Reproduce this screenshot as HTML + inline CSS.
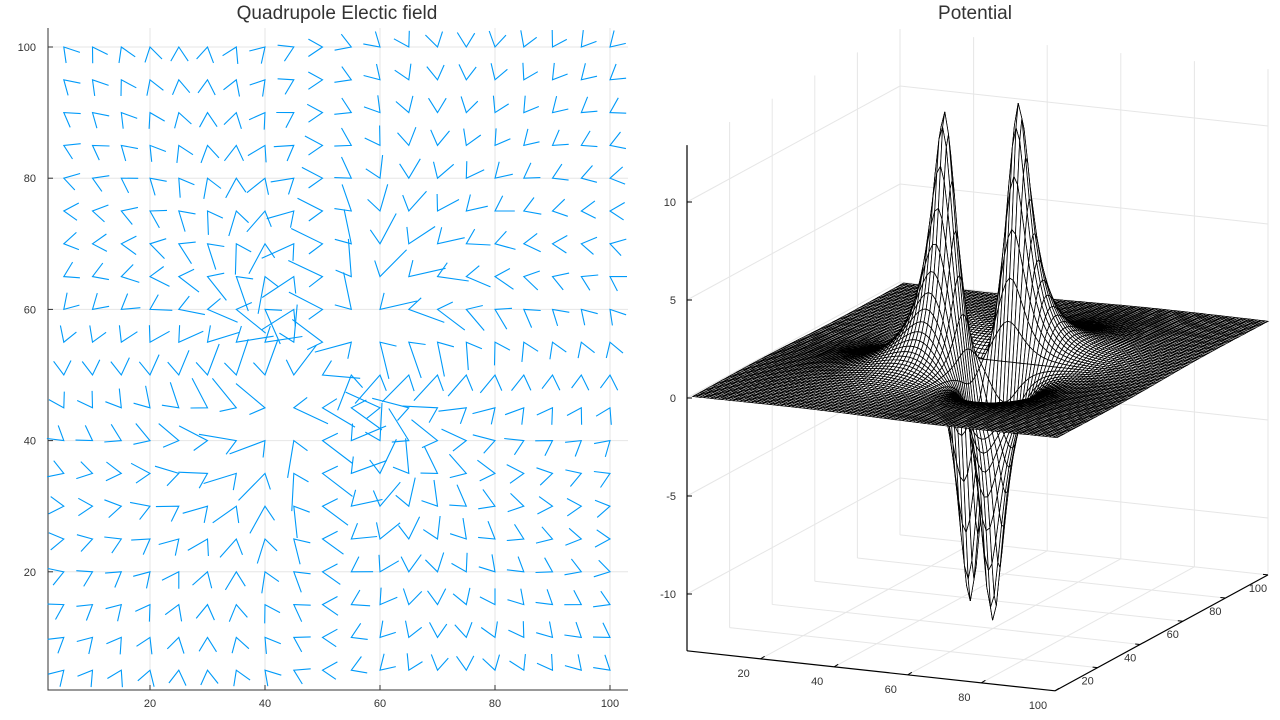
<!DOCTYPE html>
<html><head><meta charset="utf-8">
<style>
html,body{margin:0;padding:0;background:#fff;}
svg{display:block;font-family:"Liberation Sans",sans-serif;}
</style></head>
<body>
<svg id="svg" width="1280" height="720" viewBox="0 0 1280 720">
  <rect width="1280" height="720" fill="#fff"/>
  <text x="337" y="19" font-size="19" fill="#333" text-anchor="middle">Quadrupole Electic field</text>
  <text x="975" y="19" font-size="19" fill="#333" text-anchor="middle">Potential</text>
  <g id="left"></g>
  <g id="right"></g>
</svg>
<script>
// ---- data ----
const chargeX = [44, 57, 44, 57];
const chargeY = [45, 57, 57, 45];
const chargeQ = [1, 1, -1, -1];
const chargeAmp = [55];
const quiverXs = [5,10,15,20,25,30,35,40,45,50,55,60,65,70,75,80,85,90,95,100];
const quiverYs = [5,10,15,20,25,30,35,40,45,50,55,60,65,70,75,80,85,90,95,100];
const leftXTicks = [20,40,60,80,100];
const leftYTicks = [20,40,60,80,100];
const surfXTicks = [20,40,60,80,100];
const surfYTicks = [20,40,60,80,100];
const surfZTicks = [-10,-5,0,5,10];

const NS = "http://www.w3.org/2000/svg";
function mk(tag, attrs, parent){const e=document.createElementNS(NS,tag);for(const k in attrs)e.setAttribute(k,attrs[k]);parent.appendChild(e);return e;}
const soft = 3;
function phi(x,y){let s=0;for(let i=0;i<chargeX.length;i++){const dx=x-chargeX[i],dy=y-chargeY[i];s+=chargeQ[i]*chargeAmp[0]/Math.sqrt(dx*dx+dy*dy+soft*soft);}return s;}
function field(x,y){let ex=0,ey=0;for(let i=0;i<chargeX.length;i++){const dx=x-chargeX[i],dy=y-chargeY[i];const r3=Math.pow(dx*dx+dy*dy+soft*soft,1.5);ex+=-chargeQ[i]*chargeAmp[0]*dx/r3;ey+=-chargeQ[i]*chargeAmp[0]*dy/r3;}return [ex,ey];}

// ---- left quiver ----
const L = document.getElementById('left');
const sx = x => 35 + 5.75*x;
const sy = y => 703 - 6.56*y;
leftXTicks.forEach(t=>{
  const g=mk('line',{x1:sx(t),x2:sx(t),y1:28,y2:690,stroke:'#e6e6e6','stroke-width':1},L);
  
  
  const tk=mk('line',{x1:sx(t),x2:sx(t),y1:690,y2:685,stroke:'#333','stroke-width':1},L);
  
  
  const lb=mk('text',{x:sx(t),y:707,'font-size':11,fill:'#333','text-anchor':'middle'},L);
  lb.textContent=t;
  
  
});
leftYTicks.forEach(t=>{
  const g=mk('line',{x1:48,x2:628,y1:sy(t),y2:sy(t),stroke:'#e6e6e6','stroke-width':1},L);
  
  
  const tk=mk('line',{x1:48,x2:53,y1:sy(t),y2:sy(t),stroke:'#333','stroke-width':1},L);
  
  
  const lb=mk('text',{x:36,y:sy(t)+4,'font-size':11,fill:'#333','text-anchor':'end'},L);
  lb.textContent=t;
  
  
});
const ax1=mk('polyline',{points:'48,28 48,690 628,690',fill:'none',stroke:'#333','stroke-width':1},L);


const mags=[];
quiverXs.forEach(x=>quiverYs.forEach(y=>{const e=field(x,y);mags.push(Math.hypot(e[0],e[1]));}));
const sorted=mags.slice().sort((a,b)=>a-b);const med=sorted[Math.floor(sorted.length/2)];
quiverXs.forEach(x=>quiverYs.forEach(y=>{
  const e=field(x,y);const m=Math.hypot(e[0],e[1])||1e-9;
  const dx=e[0]/m, dy=-e[1]/m;
  const k=Math.max(0.9,Math.min(2.1,Math.pow(m/med,0.25)));
  const ax=sx(x), ay=sy(y);
  const bx=-dx, by=-dy, a=0.55;
  const c=Math.cos(a), s=Math.sin(a);
  const l1=18*k, l2=17;
  const p1x=ax+l1*(bx*c-by*s), p1y=ay+l1*(bx*s+by*c);
  const p2x=ax+l2*(bx*c+by*s), p2y=ay+l2*(-bx*s+by*c);
  const p=mk('polyline',{points:`${p1x.toFixed(1)},${p1y.toFixed(1)} ${ax.toFixed(1)},${ay.toFixed(1)} ${p2x.toFixed(1)},${p2y.toFixed(1)}`,fill:'none',stroke:'#009af9','stroke-width':1.1},L);
  
  
}));

// ---- right surface ----
const R=document.getElementById('right');
const ZMIN=-12.9, ZMAX=12.9;
function P(x,y,z){return [687+3.68*x+2.13*y, 398+0.4*x-1.16*y-19.6*z];}
function gl(a,b,name){const l=mk('line',{x1:a[0],y1:a[1],x2:b[0],y2:b[1],stroke:'#e6e6e6','stroke-width':1},R);}
surfZTicks.forEach(z=>{gl(P(0,0,z),P(0,100,z),'z-gridline-left');gl(P(0,100,z),P(100,100,z),'z-gridline-back');});
surfYTicks.forEach(y=>{gl(P(0,y,ZMIN),P(0,y,ZMAX),'y-gridline-wall');gl(P(0,y,ZMIN),P(100,y,ZMIN),'y-gridline-floor');});
surfXTicks.forEach(x=>{gl(P(x,100,ZMIN),P(x,100,ZMAX),'x-gridline-wall');gl(P(x,0,ZMIN),P(x,100,ZMIN),'x-gridline-floor');});
gl(P(0,100,ZMIN),P(0,100,ZMAX),'back-edge');
function axl(a,b,name){const l=mk('line',{x1:a[0],y1:a[1],x2:b[0],y2:b[1],stroke:'#000','stroke-width':1.2},R);}
axl(P(0,0,ZMIN),P(100,0,ZMIN),'x-axis');
axl(P(100,0,ZMIN),P(100,100,ZMIN),'y-axis');
axl(P(0,0,ZMIN),P(0,0,ZMAX),'z-axis');
surfXTicks.forEach(x=>{const p=P(x,0,ZMIN);
  const t=mk('line',{x1:p[0],y1:p[1],x2:p[0]+4,y2:p[1]-2.5,stroke:'#000'},R);
  const lb=mk('text',{x:p[0]-17,y:p[1]+18,'font-size':11,fill:'#333','text-anchor':'middle'},R);lb.textContent=x;});
surfYTicks.forEach(y=>{const p=P(100,y,ZMIN);
  const t=mk('line',{x1:p[0],y1:p[1],x2:p[0]-5,y2:p[1]-0.5,stroke:'#000'},R);
  const lb=mk('text',{x:p[0]-10,y:p[1]+17,'font-size':11,fill:'#333','text-anchor':'middle'},R);lb.textContent=y;});
surfZTicks.forEach(z=>{const p=P(0,0,z);
  const t=mk('line',{x1:p[0],y1:p[1],x2:p[0]+5,y2:p[1],stroke:'#000'},R);
  const lb=mk('text',{x:p[0]-11,y:p[1]+4,'font-size':11,fill:'#333','text-anchor':'end'},R);lb.textContent=z;});
const N=100, Z=[];
for(let i=1;i<=N;i++){Z[i]=[];for(let j=1;j<=N;j++){Z[i][j]=Math.max(ZMIN,Math.min(ZMAX,phi(i,j)));}}
const quads=[];
for(let i=1;i<N;i++)for(let j=1;j<N;j++)quads.push([i,j]);
quads.sort((a,b)=>(b[1]-b[0])-(a[1]-a[0]));
const M=mk('g',{},R);
quads.forEach(([i,j])=>{
  const a=P(i,j,Z[i][j]),b=P(i+1,j,Z[i+1][j]),c=P(i+1,j+1,Z[i+1][j+1]),d=P(i,j+1,Z[i][j+1]);
  const q=mk('polygon',{points:`${a[0].toFixed(1)},${a[1].toFixed(1)} ${b[0].toFixed(1)},${b[1].toFixed(1)} ${c[0].toFixed(1)},${c[1].toFixed(1)} ${d[0].toFixed(1)},${d[1].toFixed(1)}`,fill:'#fff',stroke:'#000','stroke-width':0.8},M);
  
  
});
</script>
</body></html>
